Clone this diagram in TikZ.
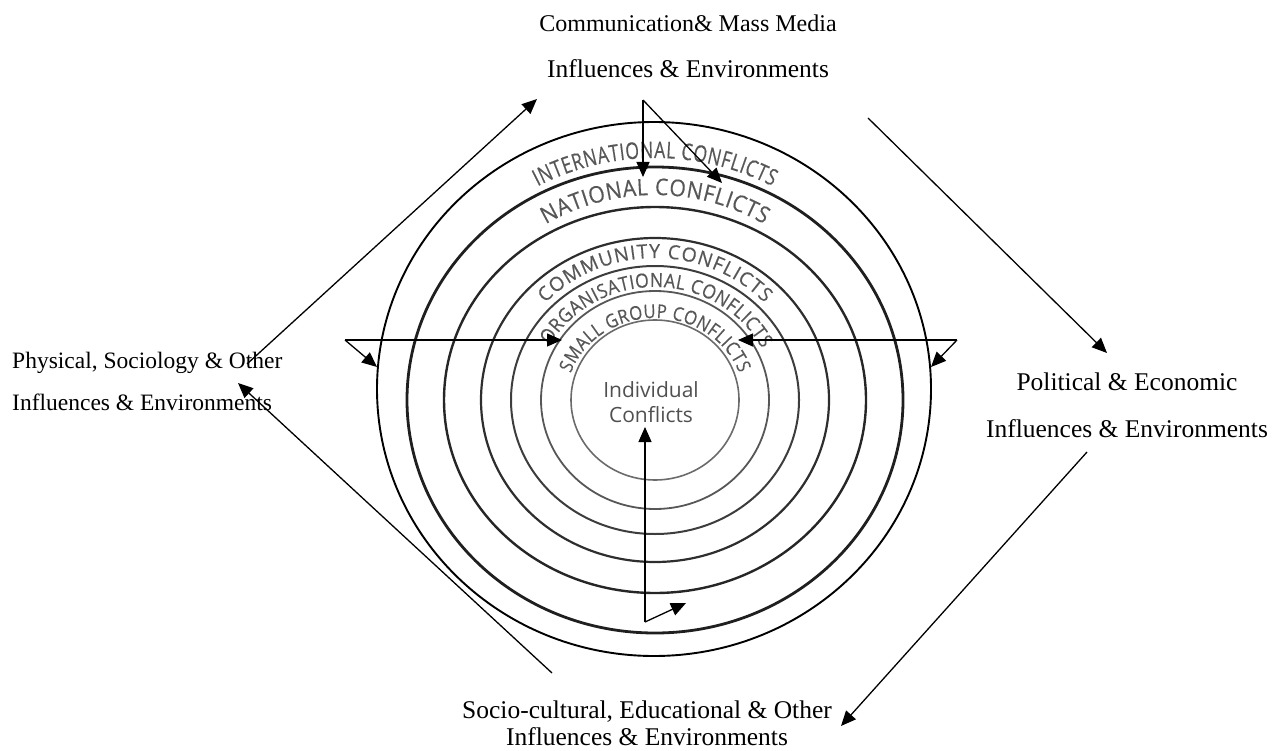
\documentclass[tikz,border=0pt]{standalone}
\usepackage{fontspec}
\setmainfont{Liberation Serif}
\newfontfamily\ringA[FakeStretch=0.76,FakeBold=0.4]{Open Sans}
\newfontfamily\ringB[FakeStretch=0.92,FakeBold=0.4]{Open Sans}
\newfontfamily\ringD[FakeStretch=1.0,FakeBold=0.4]{Open Sans}
\newfontfamily\ringE[FakeStretch=0.9,FakeBold=0.4]{Open Sans}
\newfontfamily\ringC[FakeStretch=0.88,FakeBold=0.4]{Open Sans}
\newfontfamily\ctrfont{Open Sans}
\usetikzlibrary{arrows.meta,decorations.text}
\definecolor{ringtext}{HTML}{575757}
\definecolor{ctrtext}{HTML}{505050}
\begin{document}
\begin{tikzpicture}[x=1pt,y=1pt,
  lbl/.style={font=\fontsize{25.5}{25.5}\selectfont, anchor=base, inner sep=0pt},
  lblleft/.style={font=\fontsize{23.5}{23.5}\selectfont, anchor=base west, inner sep=0pt},
  ctr/.style={font=\ctrfont\fontsize{21}{21}\selectfont, text=ctrtext, anchor=base, inner sep=0pt},
  conn/.style={line width=1.3pt, -{Triangle[length=15pt,width=13pt]}},
  outerring/.style={line width=1.9pt, black},
  ringNat/.style={line width=2.8pt, draw=black!88},
  ringBlank/.style={line width=2.4pt, draw=black!85},
  ringComm/.style={line width=2.2pt, draw=black!82},
  ringOrg/.style={line width=2.0pt, draw=black!76},
  ringSmall/.style={line width=1.8pt, draw=black!66},
  ringInd/.style={line width=1.6pt, draw=black!58},
  arctext/.style={decorate, decoration={text along path, text align=fit to path, text={#1}}}
]
\useasboundingbox (0,0) rectangle (1281,-751);

% centres
\coordinate (C) at (655,-400);
\coordinate (O) at (654,-389);

% outer circle and rings
\draw[outerring] (O) ellipse[x radius=277pt, y radius=267pt];
\draw[ringNat] (C) ellipse[x radius=248pt, y radius=233pt];
\draw[ringBlank] (C) ellipse[x radius=211pt, y radius=193pt];
\draw[ringComm] (C) ellipse[x radius=174pt, y radius=162pt];
\draw[ringOrg] (C) ellipse[x radius=144pt, y radius=134pt];
\draw[ringSmall] (C) ellipse[x radius=114pt, y radius=109pt];
\draw[ringInd] (C) ellipse[x radius=84pt, y radius=80pt];

% curved ring texts
\path[shift={(655,-400)}, arctext={|\ringA\fontsize{23}{23}\selectfont\color{ringtext}|INTERNATIONAL CONFLICTS}]
  (118:250pt and 242pt) arc[start angle=118, end angle=62, x radius=250pt, y radius=242pt];
\path[shift={(655,-400)}, arctext={|\ringB\fontsize{23}{23}\selectfont\color{ringtext}|NATIONAL CONFLICTS}]
  (121:212pt and 205pt) arc[start angle=121, end angle=59, x radius=212pt, y radius=205pt];
\path[shift={(655,-400)}, arctext={|\ringD\fontsize{19.5}{19.5}\selectfont\color{ringtext}|COMMUNITY CONFLICTS}]
  (137:150pt and 142pt) arc[start angle=137, end angle=43, x radius=150pt, y radius=142pt];
\path[shift={(655,-400)}, arctext={|\ringE\fontsize{19.5}{19.5}\selectfont\color{ringtext}|ORGANISATIONAL CONFLICTS}]
  (151:120pt and 113pt) arc[start angle=151, end angle=27, x radius=120pt, y radius=113pt];
\path[shift={(655,-400)}, arctext={|\ringC\fontsize{19}{19}\selectfont\color{ringtext}|SMALL GROUP CONFLICTS}]
  (161:89pt and 82pt) arc[start angle=161, end angle=19, x radius=89pt, y radius=82pt];

% centre text
\node[ctr] (ind1) at (651,-397) {Individual};
\node[ctr] (ind2) at (651,-422) {Conflicts};

% outer labels
\node[lbl, font=\fontsize{24}{24}\selectfont] (top1) at (688,-32) {Communication\& Mass Media};
\node[lbl] (top2) at (688,-78) {Influences \& Environments};
\node[lblleft] (left1) at (12,-368) {Physical, Sociology \& Other};
\node[lblleft] (left2) at (12,-410) {Influences \& Environments};
\node[lbl] (right1) at (1127,-390) {Political \& Economic};
\node[lbl] (right2) at (1127,-437) {Influences \& Environments};
\node[lbl] (bot1) at (647,-718) {Socio-cultural, Educational \& Other};
\node[lbl] (bot2) at (647,-745) {Influences \& Environments};

% connector end points
\coordinate (Lv) at (345,-340);
\coordinate (Lh) at (562,-340);
\coordinate (Ld) at (377,-367);
\coordinate (Rv) at (957,-340);
\coordinate (Rh) at (738,-340);
\coordinate (Rd) at (931,-367);
\coordinate (Tv) at (643,-100);
\coordinate (Th) at (643,-177);
\coordinate (Td) at (722,-183);
\coordinate (Bv) at (645,-622);
\coordinate (Bh) at (645,-427);
\coordinate (Bd) at (686,-603);
\coordinate (D1s) at (247,-364);
\coordinate (D1e) at (537,-99);
\coordinate (D2s) at (868,-118);
\coordinate (D2e) at (1107,-353);
\coordinate (D3s) at (1087,-452);
\coordinate (D3e) at (841,-726);
\coordinate (D4s) at (552,-673);
\coordinate (D4e) at (238,-383);

% connectors
\draw[conn] (Lv) -- (Lh);
\draw[conn] (Lv) -- (Ld);
\draw[conn] (Rv) -- (Rh);
\draw[conn] (Rv) -- (Rd);
\draw[conn] (Tv) -- (Th);
\draw[conn] (Tv) -- (Td);
\draw[conn] (Bv) -- (Bh);
\draw[conn] (Bv) -- (Bd);
\draw[conn] (D1s) -- (D1e);
\draw[conn] (D2s) -- (D2e);
\draw[conn] (D3s) -- (D3e);
\draw[conn] (D4s) -- (D4e);
\end{tikzpicture}
\end{document}
